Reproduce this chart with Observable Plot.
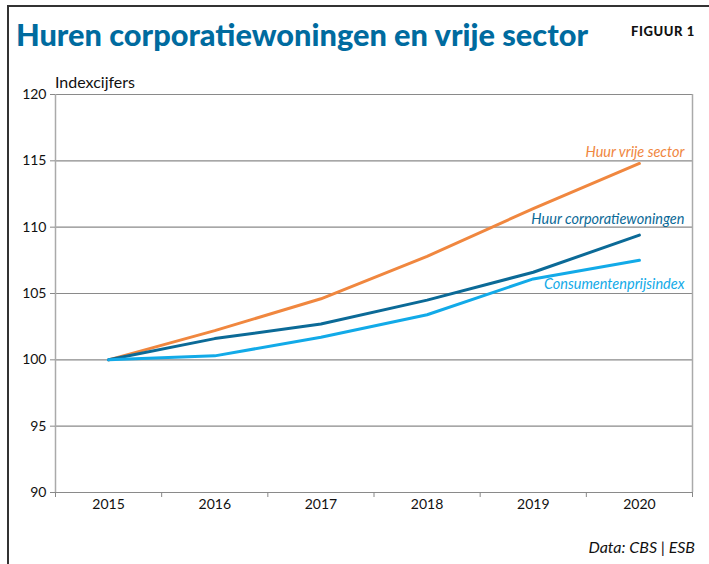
<!DOCTYPE html>
<html>
<head>
<meta charset="utf-8">
<script src="https://cdn.jsdelivr.net/npm/d3@7"></script>
<script src="https://cdn.jsdelivr.net/npm/@observablehq/plot@0.6"></script>
<style>
  html, body { margin: 0; padding: 0; background: #fff; }
  #wrap { position: relative; width: 709px; height: 564px; overflow: hidden; font-family: Lato, "Open Sans", sans-serif; }
  #frame { position: absolute; left: 7px; top: 5px; width: 702px; height: 559px; border-top: 2px solid #333; border-left: 2px solid #333; box-sizing: border-box; }
  #chart { position: absolute; left: 0; top: 70px; }
  #overlay { position: absolute; left: 0; top: 0; pointer-events: none; }
</style>
</head>
<body>
<div id="wrap">
  <div id="frame"></div>
  <div id="chart"></div>
  <svg id="overlay" width="709" height="564" xmlns="http://www.w3.org/2000/svg">
    <text x="16" y="46" font-family="Lato" font-weight="900" font-size="31" fill="#006b9f" textLength="572" lengthAdjust="spacingAndGlyphs">Huren corporatiewoningen en vrije sector</text>
    <text x="695" y="36" text-anchor="end" font-family="Lato" font-weight="900" font-size="13" fill="#111" letter-spacing="0.6">FIGUUR 1</text>
    <text x="55" y="88" font-family="Lato" font-size="16" fill="#111">Indexcijfers</text>
    <text x="695" y="553" text-anchor="end" font-family="Lato" font-style="italic" font-size="16" fill="#111">Data: CBS | ESB</text>
  </svg>
</div>
<script>
const years = [2015, 2016, 2017, 2018, 2019, 2020];
const vrijeSector = [100, 102.2, 104.6, 107.8, 111.4, 114.8];
const corporatie = [100, 101.6, 102.7, 104.5, 106.6, 109.4];
const cpi = [100, 100.3, 101.7, 103.4, 106.1, 107.5];
const seriesNames = ["Huur vrije sector", "Huur corporatiewoningen", "Consumentenprijsindex"];
const seriesColors = ["#f0873f", "#0b6a97", "#12aae8"];
const yTicks = [90, 95, 100, 105, 110, 115, 120];
const xBoundaries = [2014.5, 2015.5, 2016.5, 2017.5, 2018.5, 2019.5, 2020.5];

const seriesValues = [vrijeSector, corporatie, cpi];
const data = [];
seriesValues.forEach((vals, i) => {
  vals.forEach((v, j) => data.push({ series: seriesNames[i], year: years[j], value: v }));
});
const lastPoints = seriesNames.map((s, i) => ({ series: s, year: years[years.length - 1], value: seriesValues[i][seriesValues[i].length - 1] }));
const labelDy = [-11, -16, 24];

const plot = Plot.plot({
  width: 709,
  height: 450,
  marginLeft: 55,
  marginRight: 17,
  marginTop: 24,
  marginBottom: 28,
  style: { fontFamily: "Lato, 'Open Sans', sans-serif", fontSize: "14px", color: "#111", background: "transparent" },
  x: { domain: [2014.5, 2020.5] },
  y: { domain: [90, 120] },
  color: { domain: seriesNames, range: seriesColors },
  marks: [
    Plot.ruleY(yTicks, { stroke: "#8a8a8a", strokeWidth: 1.2 }),
    Plot.ruleX([xBoundaries[0]], { stroke: "#aaa", strokeWidth: 1.5 }),
    Plot.ruleX([xBoundaries[xBoundaries.length - 1]], { stroke: "#aaa", strokeWidth: 1.5 }),
    Plot.axisY({ ticks: yTicks, tickSize: 5, tickPadding: 4, tickFormat: d3.format("d"), label: null, stroke: "#888", fontSize: 14 }),
    Plot.axisX({ ticks: xBoundaries, tickSize: 5, tickFormat: () => "", label: null, stroke: "#888" }),
    Plot.axisX({ ticks: years, tickSize: 0, tickPadding: 7, tickFormat: d3.format("d"), label: null, fontSize: 14 }),
    Plot.line(data, { x: "year", y: "value", z: "series", stroke: "series", strokeWidth: 3, curve: "linear" }),
    ...lastPoints.map((p, i) => Plot.text([p], {
      x: "year", y: "value", text: "series", fill: "series",
      textAnchor: "end", dx: 45, dy: labelDy[i],
      fontSize: 14.5, fontStyle: "italic"
    }))
  ]
});
document.getElementById("chart").appendChild(plot);
</script>
</body>
</html>
